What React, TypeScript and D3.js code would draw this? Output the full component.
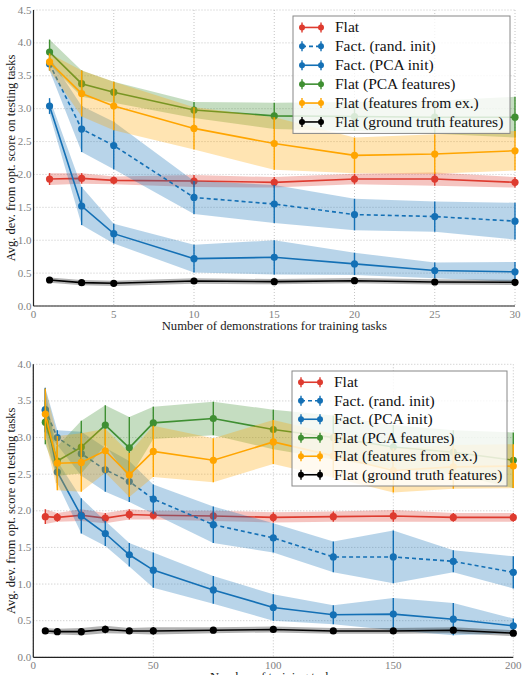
import React from 'react';
import * as d3 from 'd3';

// series labels, legend order
const seriesNames = [
  'Flat',
  'Fact. (rand. init)',
  'Fact. (PCA init)',
  'Flat (PCA features)',
  'Flat (features from ex.)',
  'Flat (ground truth features)',
];
const seriesColors = ['#de3b2f', '#1470b5', '#1470b5', '#3f8f32', '#ffa500', '#000000'];
const seriesDashed = [false, true, false, false, false, false];

// top panel: number of demonstrations
const demoX = [1, 3, 5, 10, 15, 20, 25, 30];
const demoMeans = [
  [1.93, 1.94, 1.91, 1.9, 1.88, 1.93, 1.93, 1.88],
  [3.68, 2.69, 2.44, 1.65, 1.55, 1.39, 1.36, 1.29],
  [3.04, 1.52, 1.1, 0.72, 0.74, 0.64, 0.54, 0.52],
  [3.86, 3.38, 3.25, 2.98, 2.89, 2.88, 2.87, 2.87],
  [3.71, 3.23, 3.04, 2.7, 2.47, 2.29, 2.31, 2.36],
  [0.395, 0.355, 0.345, 0.38, 0.37, 0.385, 0.365, 0.36],
];
const demoErrs = [
  [0.09, 0.08, 0.06, 0.09, 0.08, 0.08, 0.1, 0.08],
  [0.1, 0.35, 0.36, 0.25, 0.29, 0.24, 0.23, 0.28],
  [0.12, 0.29, 0.15, 0.21, 0.26, 0.17, 0.12, 0.15],
  [0.19, 0.2, 0.16, 0.12, 0.2, 0.22, 0.25, 0.31],
  [0.13, 0.35, 0.37, 0.32, 0.4, 0.27, 0.3, 0.3],
  [0.04, 0.04, 0.04, 0.04, 0.04, 0.04, 0.04, 0.04],
];
const demoTicks = [0, 5, 10, 15, 20, 25, 30];
const demoYTicks = [0, 0.5, 1, 1.5, 2, 2.5, 3, 3.5, 4, 4.5];

// bottom panel: number of training tasks
const taskX = [5, 10, 20, 30, 40, 50, 75, 100, 125, 150, 175, 200];
const taskMeans = [
  [1.92, 1.91, 1.94, 1.9, 1.95, 1.94, 1.93, 1.91, 1.92, 1.93, 1.91, 1.91],
  [3.38, 3.0, 2.78, 2.56, 2.4, 2.16, 1.81, 1.63, 1.37, 1.37, 1.31, 1.16],
  [3.37, 2.53, 1.93, 1.69, 1.4, 1.19, 0.92, 0.68, 0.58, 0.59, 0.52, 0.43],
  [3.21, 2.68, 2.87, 3.17, 2.86, 3.2, 3.26, 3.11, 3.0, 2.87, 2.8, 2.69],
  [3.32, 2.65, 2.66, 2.82, 2.49, 2.81, 2.69, 2.94, 2.75, 2.55, 2.6, 2.61],
  [0.36, 0.35, 0.35, 0.38, 0.36, 0.36, 0.37, 0.38, 0.36, 0.36, 0.37, 0.33],
];
const taskErrs = [
  [0.1, 0.06, 0.08, 0.07, 0.07, 0.06, 0.07, 0.07, 0.07, 0.08, 0.06, 0.06],
  [0.3, 0.1, 0.3, 0.3, 0.28, 0.2, 0.25, 0.2, 0.21, 0.36, 0.15, 0.22],
  [0.3, 0.15, 0.24, 0.17, 0.16, 0.24, 0.19, 0.18, 0.13, 0.22, 0.22, 0.1],
  [0.3, 0.2, 0.36, 0.27, 0.42, 0.22, 0.23, 0.27, 0.3, 0.3, 0.3, 0.38],
  [0.35, 0.37, 0.4, 0.3, 0.3, 0.35, 0.3, 0.3, 0.3, 0.3, 0.3, 0.3],
  [0.04, 0.04, 0.05, 0.05, 0.04, 0.05, 0.04, 0.04, 0.04, 0.04, 0.04, 0.04],
];
const taskTicks = [0, 50, 100, 150, 200];
const taskYTicks = [0, 0.5, 1, 1.5, 2, 2.5, 3, 3.5, 4];

const FONT = "'Liberation Serif', serif";
const yLabel = 'Avg. dev. from opt. score on testing tasks';

type PanelProps = {
  xs: number[];
  means: number[][];
  errs: number[][];
  xDomain: [number, number];
  yDomain: [number, number];
  xTicks: number[];
  yTicks: number[];
  left: number;
  right: number;
  top: number;
  bottom: number;
  xLabel: string;
  legendX: number;
  legendY: number;
  legendW: number;
  legendRow: number;
};

const Panel = (p: PanelProps) => {
  const x = d3.scaleLinear().domain(p.xDomain).range([p.left, p.right]);
  const y = d3.scaleLinear().domain(p.yDomain).range([p.bottom, p.top]);

  const line = d3.line<number>().x((_, i) => x(p.xs[i])).y(d => y(d));

  const band = (s: number) =>
    d3.area<number>()
      .x((_, i) => x(p.xs[i]))
      .y0((d, i) => y(d - p.errs[s][i]))
      .y1((d, i) => y(d + p.errs[s][i]))(p.means[s]) || '';

  const legendH = p.legendRow * 6 + 4;

  return (
    <g style={{ fontFamily: FONT }}>
      {/* grid */}
      {p.xTicks.map(t => (
        <line key={'gx' + t} x1={x(t)} x2={x(t)} y1={p.top} y2={p.bottom}
          stroke="#b5b5b5" strokeWidth={0.8} strokeDasharray="1,2" />
      ))}
      {p.yTicks.map(t => (
        <line key={'gy' + t} x1={p.left} x2={p.right} y1={y(t)} y2={y(t)}
          stroke="#b5b5b5" strokeWidth={0.8} strokeDasharray="1,2" />
      ))}

      {/* series */}
      {p.means.map((m, s) => (
        <g key={'s' + s}>
          <path d={band(s)} fill={seriesColors[s]} fillOpacity={0.3} stroke="none" />
          <path d={line(m) || ''} fill="none" stroke={seriesColors[s]} strokeWidth={1.6}
            strokeDasharray={seriesDashed[s] ? '4,3' : undefined} />
          {m.map((v, i) => (
            <g key={i}>
              <line x1={x(p.xs[i])} x2={x(p.xs[i])} y1={y(v - p.errs[s][i])} y2={y(v + p.errs[s][i])}
                stroke={seriesColors[s]} strokeWidth={1.4} />
              <circle cx={x(p.xs[i])} cy={y(v)} r={3.6} fill={seriesColors[s]} />
            </g>
          ))}
        </g>
      ))}

      {/* spines */}
      <line x1={p.left} x2={p.right} y1={p.bottom} y2={p.bottom} stroke="#222" strokeWidth={1.2} />
      <line x1={p.left} x2={p.left} y1={p.top} y2={p.bottom} stroke="#222" strokeWidth={1.2} />

      {/* tick labels */}
      {p.xTicks.map(t => (
        <text key={'tx' + t} x={x(t)} y={p.bottom + 12} textAnchor="middle"
          fontSize={11} fill="#808080">{t}</text>
      ))}
      {p.yTicks.map(t => (
        <text key={'ty' + t} x={p.left - 2} y={y(t) + 3.5} textAnchor="end"
          fontSize={11} fill="#808080">{d3.format('.1f')(t)}</text>
      ))}

      {/* axis labels */}
      <text x={(p.left + p.right) / 2} y={p.bottom + 23.5} textAnchor="middle"
        fontSize={12.7} fill="#1a1a1a">{p.xLabel}</text>
      <text transform={`translate(15,${(p.top + p.bottom) / 2}) rotate(-90)`} textAnchor="middle"
        fontSize={12.5} fill="#1a1a1a">{yLabel}</text>

      {/* legend */}
      <rect x={p.legendX} y={p.legendY} width={p.legendW} height={legendH}
        fill="#fff" fillOpacity={0.8} stroke="#888" strokeWidth={1} />
      {seriesNames.map((name, s) => {
        const cy = p.legendY + 2 + p.legendRow * (s + 0.5);
        const x0 = p.legendX + 9;
        const x1 = p.legendX + 28;
        return (
          <g key={'l' + s}>
            <line x1={x0} x2={x1} y1={cy} y2={cy} stroke={seriesColors[s]} strokeWidth={1.6}
              strokeDasharray={seriesDashed[s] ? '4,3' : undefined} />
            {[x0, x1].map(xx => (
              <g key={xx}>
                <line x1={xx} x2={xx} y1={cy - 5} y2={cy + 5} stroke={seriesColors[s]} strokeWidth={1.4} />
                <circle cx={xx} cy={cy} r={3} fill={seriesColors[s]} />
              </g>
            ))}
            <text x={p.legendX + 42} y={cy + 4.8} fontSize={15.5} fill="#111">{name}</text>
          </g>
        );
      })}
    </g>
  );
};

const App = () => (
  <svg width={522} height={675} style={{ position: 'absolute', left: 0, top: 0 }}>
    <rect width={522} height={675} fill="#fff" />
    <Panel xs={demoX} means={demoMeans} errs={demoErrs} xDomain={[0, 30]} yDomain={[0, 4.5]}
      xTicks={demoTicks} yTicks={demoYTicks} left={33.5} right={515} top={10} bottom={306}
      xLabel="Number of demonstrations for training tasks"
      legendX={293} legendY={16} legendW={217} legendRow={18.9} />
    <Panel xs={taskX} means={taskMeans} errs={taskErrs} xDomain={[0, 200]} yDomain={[0, 4]}
      xTicks={taskTicks} yTicks={taskYTicks} left={33.3} right={513.3} top={364.3} bottom={657.3}
      xLabel="Number of training tasks"
      legendX={292} legendY={371} legendW={215} legendRow={18.5} />
  </svg>
);

export default App;
